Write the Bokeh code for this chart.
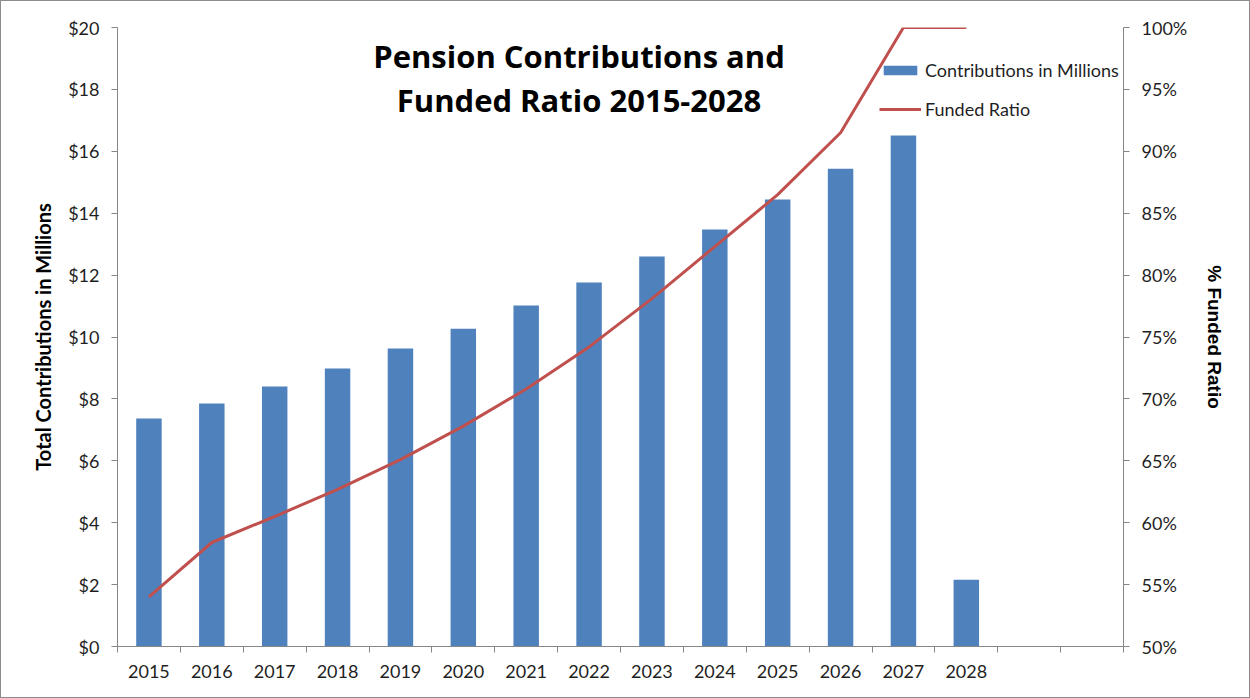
from bokeh.plotting import figure
from bokeh.models import (Range1d, LinearAxis, FixedTicker, NumeralTickFormatter,
                          Legend, LegendItem, Label)
from bokeh.embed import file_html
from bokeh.resources import INLINE

years = ["2015", "2016", "2017", "2018", "2019", "2020", "2021",
         "2022", "2023", "2024", "2025", "2026", "2027", "2028"]
contributions = [7.37, 7.85, 8.40, 8.98, 9.63, 10.27, 11.02,
                 11.76, 12.60, 13.47, 14.44, 15.44, 16.51, 2.16]
funded_ratio = [0.540, 0.584, 0.605, 0.627, 0.651, 0.678, 0.708,
                0.742, 0.781, 0.823, 0.865, 0.915, 1.000, 1.000]
n_slots = 16  # two empty category slots after 2028
left_ticks = [0, 2, 4, 6, 8, 10, 12, 14, 16, 18, 20]
right_ticks = [0.50, 0.55, 0.60, 0.65, 0.70, 0.75, 0.80, 0.85, 0.90, 0.95, 1.00]

xs = [i + 0.5 for i in range(len(years))]

FONT = "Lato"
AXIS_C = "#868686"
TXT_C = "#1f1f1f"

p = figure(width=1250, height=698, output_backend="svg", toolbar_location=None,
           x_range=Range1d(0, n_slots), y_range=Range1d(0, 20),
           min_border_left=116, min_border_right=128, min_border_top=26,
           min_border_bottom=53, outline_line_color=None,
           background_fill_color="white", border_fill_color="white")
p.styles = {"border": "1px solid #8c8c8c", "box-sizing": "border-box"}
p.xgrid.visible = False
p.ygrid.visible = False
p.extra_y_ranges = {"pct": Range1d(0.5, 1.0)}

bars = p.vbar(x=xs, top=contributions, width=0.405, color="#4F81BD", line_color=None)
line = p.line(x=xs, y=funded_ratio, y_range_name="pct", line_color="#C0504D", line_width=3)

# x axis
xa = p.xaxis[0]
xa.ticker = FixedTicker(ticks=xs, minor_ticks=list(range(n_slots + 1)))
xa.major_label_overrides = {x: y for x, y in zip(xs, years)}
xa.major_tick_line_color = None
xa.minor_tick_line_color = AXIS_C
xa.minor_tick_out = 6
xa.minor_tick_in = 0
xa.axis_line_color = AXIS_C
xa.major_label_text_font = FONT
xa.major_label_text_font_size = "18px"
xa.major_label_text_color = TXT_C
xa.major_label_standoff = 12

# left axis
ya = p.yaxis[0]
ya.ticker = FixedTicker(ticks=left_ticks)
ya.formatter = NumeralTickFormatter(format="$0")
ya.minor_tick_line_color = None
ya.major_tick_out = 6
ya.major_tick_in = 0
ya.major_tick_line_color = AXIS_C
ya.axis_line_color = AXIS_C
ya.major_label_text_font = FONT
ya.major_label_text_font_size = "18px"
ya.major_label_text_color = TXT_C
ya.major_label_standoff = 12
ya.axis_label = "Total Contributions in Millions"
ya.axis_label_text_font = FONT
ya.axis_label_text_font_style = "bold"
ya.axis_label_text_font_size = "20px"
ya.axis_label_text_color = "black"
ya.axis_label_standoff = 10

# right axis
ra = LinearAxis(y_range_name="pct", ticker=FixedTicker(ticks=right_ticks),
                formatter=NumeralTickFormatter(format="0%"))
ra.minor_tick_line_color = None
ra.major_tick_out = 6
ra.major_tick_in = 0
ra.major_tick_line_color = AXIS_C
ra.axis_line_color = AXIS_C
ra.major_label_text_font = FONT
ra.major_label_text_font_size = "18px"
ra.major_label_text_color = TXT_C
ra.major_label_standoff = 12
ra.axis_label = "% Funded Ratio"
ra.axis_label_text_font = "Liberation Sans"
ra.axis_label_text_font_style = "bold"
ra.axis_label_text_font_size = "19px"
ra.axis_label_text_color = "black"
ra.axis_label_standoff = 14
p.add_layout(ra, "right")

# title
for txt, yv in [("Pension Contributions and", 19.09), ("Funded Ratio 2015-2028", 17.67)]:
    p.add_layout(Label(x=7.34, y=yv, text=txt, text_align="center", text_baseline="alphabetic",
                       text_font="Open Sans", text_font_style="bold", text_font_size="31px",
                       text_color="black"))

legend = Legend(items=[LegendItem(label="Contributions in Millions", renderers=[bars]),
                       LegendItem(label="Funded Ratio", renderers=[line])],
                location=(762, 526), glyph_width=42, glyph_height=12,
                label_text_font=FONT, label_text_font_size="18px", label_text_color=TXT_C,
                spacing=17, padding=0, margin=0, border_line_color=None,
                background_fill_alpha=0, label_standoff=4)
p.add_layout(legend, "center")

open("out.html", "w").write(file_html(p, INLINE))
